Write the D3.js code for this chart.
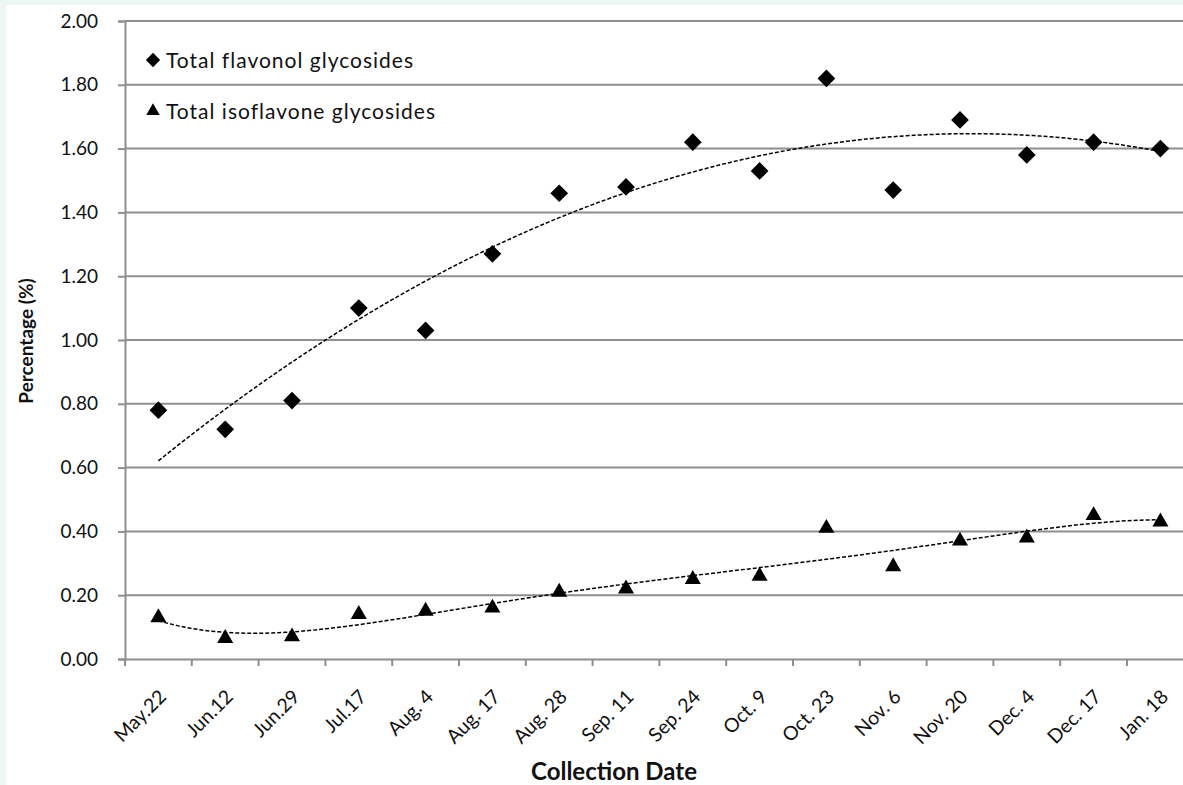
<!DOCTYPE html>
<html>
<head>
<meta charset="utf-8">
<script src="https://cdn.jsdelivr.net/npm/d3@7"></script>
<style>
  html, body { margin: 0; padding: 0; background: #eef6f2; }
  svg { display: block; }
  text { font-family: Lato, "Noto Sans", sans-serif; fill: #111; }
</style>
</head>
<body>
<svg id="chart" width="1183" height="785"></svg>
<script>
// Collection dates (x categories)
const dates = ["May.22", "Jun.12", "Jun.29", "Jul.17", "Aug. 4", "Aug. 17", "Aug. 28", "Sep. 11",
               "Sep. 24", "Oct. 9", "Oct. 23", "Nov. 6", "Nov. 20", "Dec. 4", "Dec. 17", "Jan. 18"];

// Total flavonol glycosides (%)
const flavonol = [0.78, 0.72, 0.81, 1.10, 1.03, 1.27, 1.46, 1.48, 1.62, 1.53, 1.82, 1.47, 1.69, 1.58, 1.62, 1.60];

// Total isoflavone glycosides (%)
const isoflavone = [0.13, 0.065, 0.07, 0.14, 0.15, 0.16, 0.21, 0.22, 0.25, 0.26, 0.41, 0.29, 0.37, 0.38, 0.45, 0.43];

// Polynomial order of each trendline
const trendOrders = [2, 5];

// Y axis ticks
const yTicks = [0, 0.2, 0.4, 0.6, 0.8, 1.0, 1.2, 1.4, 1.6, 1.8, 2.0];

const seriesNames = ["Total flavonol glycosides", "Total isoflavone glycosides"];

const svg = d3.select("#chart");

// white chart area inside the light border
svg.append("rect").attr("x", 6).attr("y", 5).attr("width", 1183).attr("height", 785).attr("fill", "#fff");

const plotLeft = 125, plotTop = 21, plotBottom = 659, band = 66.8;

const x = d3.scaleBand().domain(dates).range([plotLeft, plotLeft + band * dates.length]).padding(0);
const y = d3.scaleLinear().domain([0, 2]).range([plotBottom, plotTop]);
const cx = d => x(d) + x.bandwidth() / 2;

// horizontal gridlines
svg.append("g").selectAll("line").data(yTicks.slice(1)).join("line")
  .attr("x1", plotLeft).attr("x2", plotLeft + band * dates.length)
  .attr("y1", d => y(d)).attr("y2", d => y(d))
  .attr("stroke", "#8e8e8e").attr("stroke-width", 2);

// y axis
const yAxis = svg.append("g").attr("transform", `translate(${plotLeft},0)`)
  .call(d3.axisLeft(y).tickValues(yTicks).tickFormat(d3.format(".2f")).tickSize(7).tickPadding(20));
yAxis.select(".domain").attr("stroke", "#8e8e8e").attr("stroke-width", 2);
yAxis.selectAll(".tick line").attr("stroke", "#8e8e8e").attr("stroke-width", 2);
yAxis.selectAll(".tick text").attr("font-size", 19).attr("fill", "#111")
  .style("font-family", "Lato, 'Noto Sans', sans-serif");

// x axis
const xAxis = svg.append("g").attr("transform", `translate(0,${plotBottom})`)
  .call(d3.axisBottom(x).tickSize(0).tickFormat(""));
xAxis.select(".domain").attr("stroke", "#8e8e8e").attr("stroke-width", 2);
// ticks at category boundaries
svg.append("g").selectAll("line").data(dates).join("line")
  .attr("x1", d => x(d)).attr("x2", d => x(d))
  .attr("y1", plotBottom).attr("y2", plotBottom + 7)
  .attr("stroke", "#8e8e8e").attr("stroke-width", 2);
// rotated category labels
svg.append("g").selectAll("text").data(dates).join("text")
  .attr("transform", d => `translate(${cx(d) + 9},${plotBottom + 39}) rotate(-45)`)
  .attr("text-anchor", "end")
  .attr("font-size", 19.5)
  .text(d => d);

// least-squares polynomial trend (x centred to keep the normal equations well conditioned)
function polyFit(xs, ys, order) {
  const m = d3.mean(xs);
  const n = order + 1;
  const A = Array.from({length: n}, () => new Array(n + 1).fill(0));
  xs.forEach((xv, i) => {
    const u = xv - m;
    for (let r = 0; r < n; r++) {
      for (let c = 0; c < n; c++) A[r][c] += Math.pow(u, r + c);
      A[r][n] += ys[i] * Math.pow(u, r);
    }
  });
  for (let i = 0; i < n; i++) {
    let p = i;
    for (let k = i + 1; k < n; k++) if (Math.abs(A[k][i]) > Math.abs(A[p][i])) p = k;
    [A[i], A[p]] = [A[p], A[i]];
    for (let k = i + 1; k < n; k++) {
      const f = A[k][i] / A[i][i];
      for (let c = i; c <= n; c++) A[k][c] -= f * A[i][c];
    }
  }
  const coef = new Array(n).fill(0);
  for (let i = n - 1; i >= 0; i--) {
    let s = A[i][n];
    for (let c = i + 1; c < n; c++) s -= A[i][c] * coef[c];
    coef[i] = s / A[i][i];
  }
  return t => coef.reduce((acc, a, k) => acc + a * Math.pow(t - m, k), 0);
}

const idx = dates.map((d, i) => i + 1);
const xIdx = d3.scaleLinear().domain([1, dates.length]).range([cx(dates[0]), cx(dates[dates.length - 1])]);
const samples = d3.range(1, dates.length + 0.001, 0.1);
const trendLine = d3.line().x(t => xIdx(t[0])).y(t => y(t[1]));

[flavonol, isoflavone].forEach((vals, s) => {
  const f = polyFit(idx, vals, trendOrders[s]);
  svg.append("path")
    .attr("d", trendLine(samples.map(t => [t, f(t)])))
    .attr("fill", "none").attr("stroke", "#000").attr("stroke-width", 1.5)
    .attr("stroke-dasharray", "4,2");
});

// markers
const diamond = d3.symbol().type(d3.symbolDiamond2).size(200);
const triangle = d3.symbol().type(d3.symbolTriangle2).size(185);

svg.append("g").selectAll("path").data(flavonol).join("path")
  .attr("transform", (v, i) => `translate(${cx(dates[i])},${y(v)})`)
  .attr("d", diamond).attr("fill", "#000");

svg.append("g").selectAll("path").data(isoflavone).join("path")
  .attr("transform", (v, i) => `translate(${cx(dates[i])},${y(v)})`)
  .attr("d", triangle).attr("fill", "#000");

// legend
const legend = svg.append("g");
legend.append("path").attr("transform", "translate(153,60)").attr("d", d3.symbol().type(d3.symbolDiamond2).size(130)).attr("fill", "#000");
legend.append("text").attr("x", 166).attr("y", 68).attr("font-size", 21).attr("letter-spacing", 1).text(seriesNames[0]);
legend.append("path").attr("transform", "translate(153,111)").attr("d", d3.symbol().type(d3.symbolTriangle2).size(130)).attr("fill", "#000");
legend.append("text").attr("x", 166).attr("y", 119).attr("font-size", 21).attr("letter-spacing", 1).text(seriesNames[1]);

// axis titles
svg.append("text").attr("transform", "translate(33,341) rotate(-90)")
  .attr("text-anchor", "middle").attr("font-size", 19).attr("font-weight", "bold").text("Percentage (%)");
svg.append("text").attr("x", 614).attr("y", 780)
  .attr("text-anchor", "middle").attr("font-size", 24).attr("font-weight", "bold").text("Collection Date");
</script>
</body>
</html>
